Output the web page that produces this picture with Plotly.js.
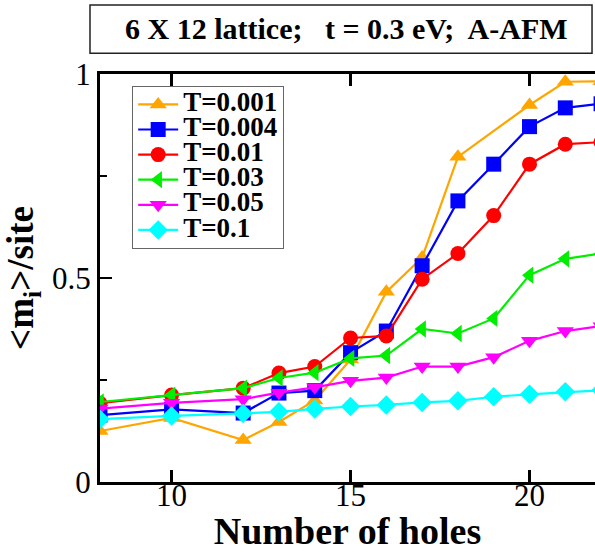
<!DOCTYPE html>
<html><head><meta charset="utf-8">
<script src="https://cdn.plot.ly/plotly-3.0.1.min.js"></script>
<style>html,body{margin:0;padding:0;background:#fff}#plot{width:595px;height:552px}</style>
</head><body><div id="plot"></div>
<script>
const xOrange = [8,10,12,13,14,15,16,17,18,20,21,22];
const yOrange = [0.125,0.157,0.103,0.147,0.200,0.300,0.466,0.550,0.797,0.924,0.981,0.982];
const xAll = [8,10,12,13,14,15,16,17,18,19,20,21,22];
const yBlue    = [0.164,0.178,0.169,0.218,0.224,0.317,0.370,0.530,0.689,0.779,0.871,0.917,0.927];
const yRed     = [0.193,0.213,0.230,0.267,0.283,0.353,0.358,0.497,0.560,0.653,0.779,0.828,0.833];
const yGreen   = [0.196,0.213,0.230,0.255,0.268,0.303,0.310,0.375,0.364,0.401,0.507,0.547,0.560];
const yMagenta = [0.180,0.194,0.203,0.219,0.232,0.248,0.256,0.283,0.283,0.306,0.346,0.370,0.382];
const yCyan    = [0.154,0.162,0.168,0.172,0.179,0.185,0.189,0.195,0.199,0.209,0.215,0.221,0.225];
const names = ['T=0.001','T=0.004','T=0.01','T=0.03','T=0.05','T=0.1'];
const xTickVals = [10,15,20];
const yTickVals = [0,0.5,1];
const yTickText = ['0','0.5','1'];

const series = [
  {x:xOrange, y:yOrange, c:'#FFA500', s:'triangle-up'},
  {x:xAll, y:yBlue, c:'#0000FF', s:'square'},
  {x:xAll, y:yRed, c:'#FF0000', s:'circle'},
  {x:xAll, y:yGreen, c:'#00EE00', s:'triangle-left'},
  {x:xAll, y:yMagenta, c:'#FF00FF', s:'triangle-down'},
  {x:xAll, y:yCyan, c:'#00FFFF', s:'diamond'}
];
const traces = series.map((d,i)=>({
  x:d.x, y:d.y, name:'<span style="font-size:27px">'+names[i]+'</span>', type:'scatter', mode:'lines+markers',
  line:{color:d.c, width:2.2},
  marker:{symbol:d.s, color:d.c, size:15, line:{width:0}},
  cliponaxis:true
}));

const font = 'Times New Roman, Liberation Serif, serif';
const layout = {
  width:595, height:552,
  margin:{l:100, r:0, t:74, b:70},
  paper_bgcolor:'#fff', plot_bgcolor:'#fff',
  showlegend:true,
  legend:{x:0.065, y:0.971, xanchor:'left', yanchor:'top',
    bgcolor:'#fff', bordercolor:'#666', borderwidth:1,
    font:{family:font, size:17, color:'#000', weight:'bold'},
    tracegroupgap:0, itemwidth:40},
  xaxis:{range:[8,21.83], tickvals:xTickVals, ticks:'inside', ticklen:12, tickwidth:2.5,
    tickcolor:'#000', showline:true, linewidth:3, linecolor:'#000', mirror:'ticks',
    showgrid:false, zeroline:false, ticklabelstandoff:-16,
    tickfont:{family:font, size:31, color:'#000'},
    title:{text:'Number of holes', font:{family:font, size:38, color:'#000', weight:'bold'}, standoff:6}},
  yaxis:{range:[0,1], tickvals:yTickVals, ticktext:yTickText, ticks:'inside', ticklen:12, tickwidth:2.5,
    tickcolor:'#000', showline:true, linewidth:3, linecolor:'#000', mirror:false,
    showgrid:false, zeroline:false,
    minor:{tickvals:[0.25,0.75], ticks:'inside', ticklen:7, tickwidth:2.5, tickcolor:'#000'},
    tickfont:{family:font, size:31, color:'#000'},
    title:{text:'&lt;m<sub>i</sub>&gt;/site', font:{family:font, size:37, color:'#000', weight:'bold'}, standoff:8}},
  shapes:[{type:'rect', xref:'paper', yref:'paper', x0:-0.0202, x1:0.994, y0:1.051, y1:1.169,
    line:{color:'#222', width:1.5}, fillcolor:'rgba(0,0,0,0)'}],
  annotations:[{xref:'paper', yref:'paper', x:0.497, y:1.112, xanchor:'center', yanchor:'middle',
    showarrow:false, text:'6 X 12 lattice;   t = 0.3 eV;  A-AFM',
    font:{family:font, size:30, color:'#000', weight:'bold'}}]
};
Plotly.newPlot('plot', traces, layout, {displayModeBar:false, staticPlot:true});
</script></body></html>
